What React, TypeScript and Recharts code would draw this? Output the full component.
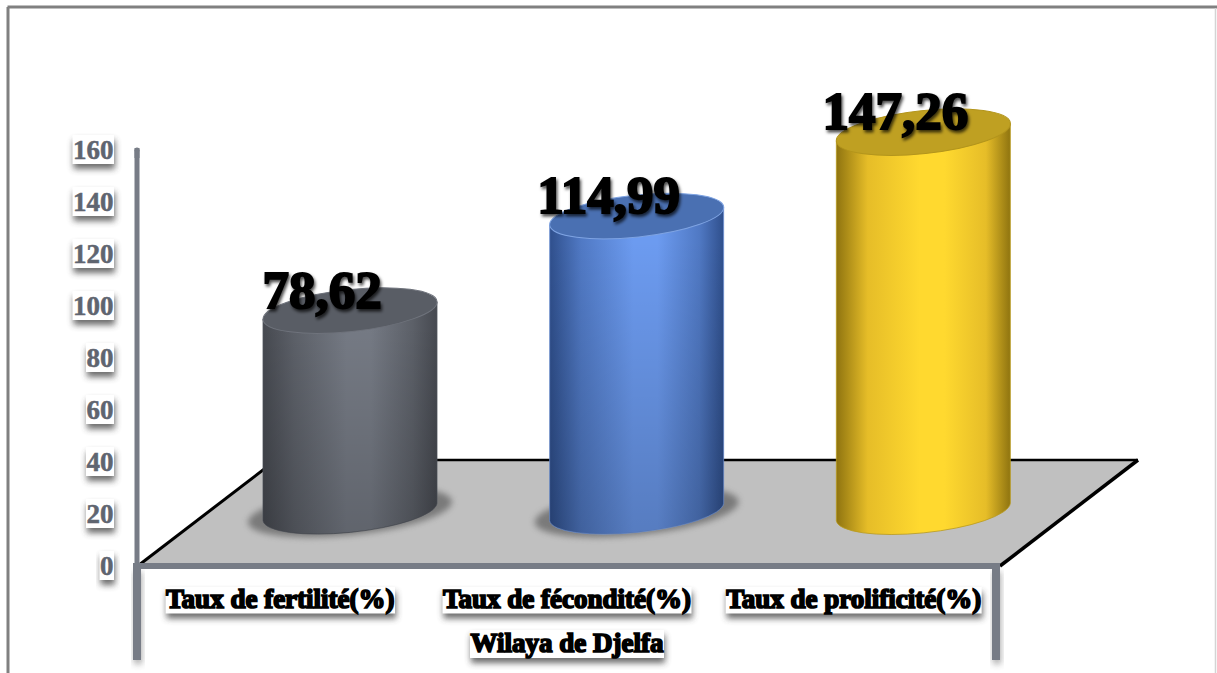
import React from "react";
import { BarChart, Bar, XAxis, YAxis, LabelList, Customized } from "recharts";

const categories = ["Taux de fertilité(%)", "Taux de fécondité(%)", "Taux de prolificité(%)"];
const values = [78.62, 114.99, 147.26];
const yTicks = [0, 20, 40, 60, 80, 100, 120, 140, 160];
const groupLabel = "Wilaya de Djelfa";
const rows = categories.map((name, i) => ({ name, value: values[i] }));

const FONT = "'Liberation Serif', 'Times New Roman', serif";
const AXIS_GREY = "#777c86";
const DEPTH_X = 70;
const DEPTH_Y = 54;
const palettes = [
  { id: "g", edge: "#464950", mid: "#5c6068", light: "#757a84", top: "#595d65", rim: "#6f737c", line: "#52555d", shade: 0.18 },
  { id: "b", edge: "#2f4f8c", mid: "#5079c4", light: "#6c9bf0", top: "#4a70b2", rim: "#7ea3e2", line: "#6e93d6", shade: 0.2 },
  { id: "y", edge: "#8f7410", mid: "#e6bd28", light: "#ffd92f", top: "#bfa022", rim: "#b3951c", line: "#b99b1e", shade: 0 },
];

const textWidth = (text: string, size: number) => {
  const ctx = document.createElement("canvas").getContext("2d");
  if (!ctx) return text.length * size * 0.45;
  ctx.font = `bold ${size}px 'Liberation Serif'`;
  return ctx.measureText(text).width;
};

function BoxedText({ text, anchorX, top, h, baseline, align, color, stroke, weight }: any) {
  const size = 27;
  const w = textWidth(text, size) + 1;
  const left = align === "end" ? anchorX - w : anchorX - w / 2;
  return (
    <g>
      <rect x={left + 1} y={top + 5} width={w} height={h} fill="#3a3a3a" opacity={0.75} filter="url(#softShadow)" />
      <rect x={left} y={top} width={w} height={h} fill="#ffffff" />
      <text
        x={left + w / 2}
        y={top + baseline}
        textAnchor="middle"
        fontFamily={FONT}
        fontWeight="bold"
        fontSize={size}
        fill={color}
        stroke={stroke}
        strokeWidth={weight}
      >
        {text}
      </text>
    </g>
  );
}

function YTick({ x, y, payload }: any) {
  return <BoxedText text={String(payload.value)} anchorX={x} top={y - 15} h={29} baseline={24} align="end" color="#5f6570" stroke="#5f6570" weight={0.5} />;
}

function XTick({ x, y, payload }: any) {
  return <BoxedText text={payload.value} anchorX={x} top={y + 19} h={26.5} baseline={21} align="middle" color="#000" stroke="#000" weight={1.7} />;
}

function GroupLabel({ viewBox }: any) {
  return <BoxedText text={groupLabel} anchorX={viewBox.x + viewBox.width / 2} top={630} h={28} baseline={22} align="middle" color="#000" stroke="#000" weight={1.7} />;
}

function Backdrop() {
  return (
    <g>
      <rect x={0} y={0} width={1217} height={673} fill="#ffffff" />
      <line x1={7.5} y1={7} x2={1217} y2={7} stroke="#808080" strokeWidth={3} />
      <line x1={8} y1={7} x2={8} y2={673} stroke="#808080" strokeWidth={3} />
      <line x1={1215.5} y1={8} x2={1215.5} y2={673} stroke="#d4d4d4" strokeWidth={1.5} />
      <polygon points="140,564 1000,564 1138,460 276,460" fill="#c0c0c0" />
      <line x1={276} y1={460} x2={1138} y2={460} stroke="#000" strokeWidth={2.5} />
      <line x1={139} y1={565} x2={276} y2={460} stroke="#000" strokeWidth={3} />
      <line x1={1000} y1={566} x2={1138} y2={460} stroke="#000" strokeWidth={3.5} />
      <rect x={134} y={572} width={8} height={92} fill="#444" opacity={0.45} filter="url(#softShadow)" />
      <rect x={993} y={572} width={8} height={92} fill="#444" opacity={0.45} filter="url(#softShadow)" />
      <rect x={133} y={566} width={8} height={94} fill={AXIS_GREY} />
      <rect x={992} y={566} width={8} height={94} fill={AXIS_GREY} />
      <circle cx={137} cy={150} r={2.5} fill={AXIS_GREY} />
      <rect x={134.5} y={148} width={5} height={10} fill={AXIS_GREY} />
      <rect x={133} y={563} width={867} height={6} fill={AXIS_GREY} />
    </g>
  );
}

function Cylinder({ x, y, width, height, index }: any) {
  const p = palettes[index];
  const cx = x + width / 2 + DEPTH_X;
  const top = y - DEPTH_Y + 3;
  const bottom = y + height - DEPTH_Y;
  const rx = width / 2 + 0.5;
  const ry = index === 2 ? 21.5 : 21;
  const dy = 8.7;
  const xl = cx - width / 2;
  const xr = cx + width / 2;
  const side = `M${xl} ${top + dy} L${xl} ${bottom + dy} A${rx} ${ry} -6 0 0 ${xr} ${bottom - dy} L${xr} ${top - dy} A${rx} ${ry} -6 0 1 ${xl} ${top + dy} Z`;
  return (
    <g>
      {p.shade > 0 && (
        <ellipse cx={cx} cy={bottom} rx={rx + 15} ry={ry + 2} transform={`rotate(-6 ${cx} ${bottom})`} fill="#555555" opacity={0.65} filter="url(#softShadow)" />
      )}
      <path d={side} fill={`url(#side-${p.id})`} stroke={p.line} strokeWidth={0.8} />
      {p.shade > 0 && <path d={side} fill={`url(#shade-${p.id})`} />}
      <ellipse cx={cx} cy={top} rx={rx} ry={ry} transform={`rotate(-6 ${cx} ${top})`} fill={p.top} stroke={p.rim} strokeWidth={1} />
    </g>
  );
}

function ValueLabel({ x, y, width, value }: any) {
  return (
    <text
      x={x + width / 2 + 42}
      y={y - DEPTH_Y}
      textAnchor="middle"
      fontFamily={FONT}
      fontWeight="bold"
      fontSize={53}
      fill="#000"
      stroke="#000"
      strokeWidth={2}
      filter="url(#labelShadow)"
    >
      {Number(value).toFixed(2).replace(".", ",")}
    </text>
  );
}

export default function App() {
  return (
    <div style={{ position: "absolute", left: 0, top: 0, width: 1217, height: 673 }}>
      <BarChart
        width={1217}
        height={673}
        data={rows}
        margin={{ top: 150, right: 220, bottom: 0, left: 77 }}
        barSize={174}
      >
        <defs>
          <filter id="softShadow" x="-30%" y="-50%" width="160%" height="200%">
            <feGaussianBlur stdDeviation="3" />
          </filter>
          <filter id="labelShadow" x="-10%" y="-20%" width="125%" height="150%">
            <feDropShadow dx="1.5" dy="2.5" stdDeviation="1.8" floodColor="#000" floodOpacity="0.7" />
          </filter>
          {palettes.map((p) => (
            <linearGradient key={p.id} id={`side-${p.id}`} x1="0" y1="0" x2="1" y2="0">
              <stop offset="0%" stopColor={p.edge} />
              <stop offset="18%" stopColor={p.mid} />
              <stop offset="48%" stopColor={p.light} />
              <stop offset="62%" stopColor={p.light} />
              <stop offset="86%" stopColor={p.mid} />
              <stop offset="100%" stopColor={p.edge} />
            </linearGradient>
          ))}
          {palettes.map((p) => (
            <linearGradient key={p.id} id={`shade-${p.id}`} x1="0" y1="0" x2="0" y2="1">
              <stop offset="10%" stopColor="#000" stopOpacity={0} />
              <stop offset="100%" stopColor="#000" stopOpacity={p.shade} />
            </linearGradient>
          ))}
        </defs>
        <Customized component={Backdrop} />
        <XAxis
          dataKey="name"
          height={107}
          tickLine={false}
          tickSize={0}
          axisLine={{ stroke: AXIS_GREY, strokeWidth: 6 }}
          tick={<XTick />}
          interval={0}
          label={{ content: <GroupLabel /> } as any}
        />
        <YAxis
          domain={[0, 160]}
          ticks={yTicks}
          width={60}
          interval={0}
          tickLine={false}
          tickSize={0}
          tickMargin={23}
          axisLine={{ stroke: AXIS_GREY, strokeWidth: 5 }}
          tick={<YTick />}
        />
        <Bar dataKey="value" isAnimationActive={false} shape={<Cylinder />}>
          <LabelList dataKey="value" content={<ValueLabel />} />
        </Bar>
      </BarChart>
    </div>
  );
}
